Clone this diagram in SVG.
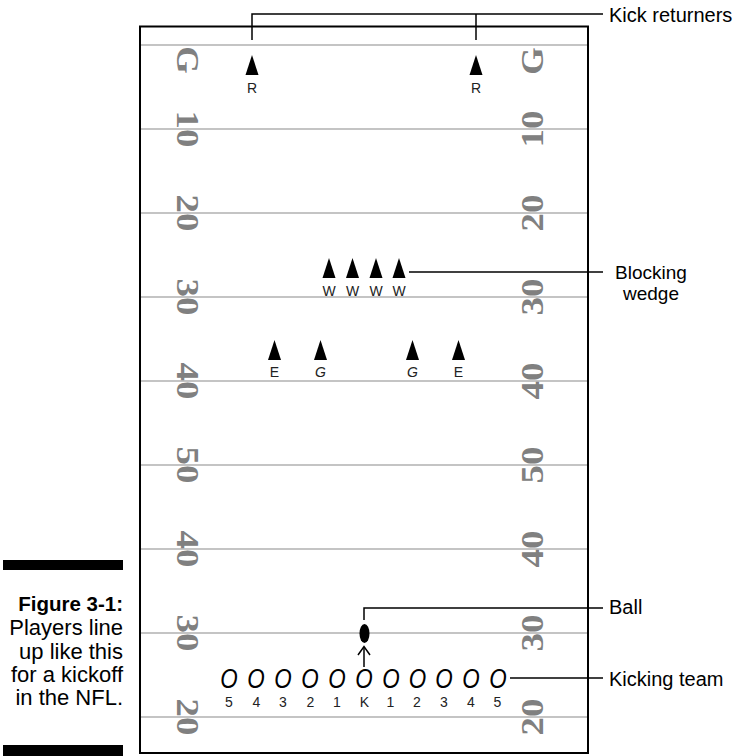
<svg xmlns="http://www.w3.org/2000/svg" xmlns:xlink="http://www.w3.org/1999/xlink" width="746" height="756" viewBox="0 0 746 756">
<style>
.yard{stroke:#8a8a8a;stroke-width:1.2;fill:none}
.num{font-family:"Liberation Serif","Times New Roman",serif;font-weight:bold;font-size:32px;fill:#808080;text-anchor:middle}
.lbl{font-family:"Liberation Sans",Arial,sans-serif;font-size:14px;fill:#222;text-anchor:middle}
.kick{font-family:"Liberation Sans",Arial,sans-serif;font-style:italic;font-size:28px;fill:#000;text-anchor:middle}
.call{font-family:"Liberation Sans",Arial,sans-serif;font-size:20px;fill:#000}
.wedge{font-family:"Liberation Sans",Arial,sans-serif;font-size:19px;fill:#000;text-anchor:middle}
.cap{font-family:"Liberation Sans",Arial,sans-serif;font-size:22px;fill:#000;text-anchor:end}
.capb{font-family:"Liberation Sans",Arial,sans-serif;font-size:20.5px;font-weight:bold;fill:#000;text-anchor:end}
.lead{stroke:#000;stroke-width:1.5;fill:none}
</style>
<defs>
<path id="tri" d="M0,0 L6.5,20 L-6.5,20 Z" fill="#000"/>
</defs>
<rect width="746" height="756" fill="#fff"/>

<g id="field">
<rect x="140" y="26.5" width="448" height="726.5" fill="none" stroke="#000" stroke-width="2"/>
<g class="yard">
<line x1="141" y1="45" x2="587" y2="45"/>
<line x1="141" y1="129" x2="587" y2="129"/>
<line x1="141" y1="213" x2="587" y2="213"/>
<line x1="141" y1="297" x2="587" y2="297"/>
<line x1="141" y1="381" x2="587" y2="381"/>
<line x1="141" y1="465" x2="587" y2="465"/>
<line x1="141" y1="549" x2="587" y2="549"/>
<line x1="141" y1="633" x2="587" y2="633"/>
<line x1="141" y1="717" x2="587" y2="717"/>
</g>
<g id="left-numbers">
<text class="num" transform="translate(177,60) rotate(90) scale(1.1,1)">G</text>
<text class="num" transform="translate(177,129) rotate(90) scale(1.15,1)">10</text>
<text class="num" transform="translate(177,213) rotate(90) scale(1.15,1)">20</text>
<text class="num" transform="translate(177,297) rotate(90) scale(1.15,1)">30</text>
<text class="num" transform="translate(177,381) rotate(90) scale(1.15,1)">40</text>
<text class="num" transform="translate(177,465) rotate(90) scale(1.15,1)">50</text>
<text class="num" transform="translate(177,549) rotate(90) scale(1.15,1)">40</text>
<text class="num" transform="translate(177,633) rotate(90) scale(1.15,1)">30</text>
<text class="num" transform="translate(177,717) rotate(90) scale(1.15,1)">20</text>
</g>
<g id="right-numbers">
<text class="num" transform="translate(543,61) rotate(-90) scale(1.1,1)">G</text>
<text class="num" transform="translate(543,129) rotate(-90) scale(1.15,1)">10</text>
<text class="num" transform="translate(543,213) rotate(-90) scale(1.15,1)">20</text>
<text class="num" transform="translate(543,297) rotate(-90) scale(1.15,1)">30</text>
<text class="num" transform="translate(543,381) rotate(-90) scale(1.15,1)">40</text>
<text class="num" transform="translate(543,465) rotate(-90) scale(1.15,1)">50</text>
<text class="num" transform="translate(543,549) rotate(-90) scale(1.15,1)">40</text>
<text class="num" transform="translate(543,633) rotate(-90) scale(1.15,1)">30</text>
<text class="num" transform="translate(543,717) rotate(-90) scale(1.15,1)">20</text>
</g>
</g>

<g id="connectors">
<polyline class="lead" points="252,40 252,14 603,14"/>
<line class="lead" x1="476" y1="14" x2="476" y2="40"/>
<line class="lead" x1="409" y1="272" x2="603" y2="272"/>
<polyline class="lead" points="364,620 364,608 603,608"/>
<line class="lead" x1="510" y1="678" x2="603" y2="678"/>
<line class="lead" x1="364" y1="667" x2="364" y2="647"/>
<polyline class="lead" points="358,655 364,646.5 370,655"/>
</g>

<g id="kick-returners">
<use xlink:href="#tri" href="#tri" x="252" y="55"/>
<text class="lbl" x="252" y="93">R</text>
<use xlink:href="#tri" href="#tri" x="476" y="55"/>
<text class="lbl" x="476" y="93">R</text>
</g>

<g id="blocking-wedge">
<use xlink:href="#tri" href="#tri" x="329" y="258"/>
<use xlink:href="#tri" href="#tri" x="352.5" y="258"/>
<use xlink:href="#tri" href="#tri" x="376" y="258"/>
<use xlink:href="#tri" href="#tri" x="399" y="258"/>
<text class="lbl" x="329" y="296">W</text>
<text class="lbl" x="352.5" y="296">W</text>
<text class="lbl" x="376" y="296">W</text>
<text class="lbl" x="399" y="296">W</text>
</g>

<g id="ends-guards">
<use xlink:href="#tri" href="#tri" x="274.5" y="340"/>
<use xlink:href="#tri" href="#tri" x="320.5" y="340"/>
<use xlink:href="#tri" href="#tri" x="412.5" y="340"/>
<use xlink:href="#tri" href="#tri" x="458.5" y="340"/>
<text class="lbl" x="274.5" y="377">E</text>
<text class="lbl" x="320.5" y="377" style="font-style:italic">G</text>
<text class="lbl" x="412.5" y="377" style="font-style:italic">G</text>
<text class="lbl" x="458.5" y="377">E</text>
</g>

<g id="ball">
<ellipse cx="364.5" cy="633.5" rx="5" ry="9.5" fill="#000"/>
</g>

<g id="kicking-team">
<text class="kick" transform="translate(229,688) scale(0.8,1)">O</text>
<text class="kick" transform="translate(256,688) scale(0.8,1)">O</text>
<text class="kick" transform="translate(283,688) scale(0.8,1)">O</text>
<text class="kick" transform="translate(310,688) scale(0.8,1)">O</text>
<text class="kick" transform="translate(337,688) scale(0.8,1)">O</text>
<text class="kick" transform="translate(364,688) scale(0.8,1)">O</text>
<text class="kick" transform="translate(391,688) scale(0.8,1)">O</text>
<text class="kick" transform="translate(417.5,688) scale(0.8,1)">O</text>
<text class="kick" transform="translate(444,688) scale(0.8,1)">O</text>
<text class="kick" transform="translate(471,688) scale(0.8,1)">O</text>
<text class="kick" transform="translate(498,688) scale(0.8,1)">O</text>
<text class="lbl" x="229" y="707">5</text>
<text class="lbl" x="256.5" y="707">4</text>
<text class="lbl" x="283" y="707">3</text>
<text class="lbl" x="310.5" y="707">2</text>
<text class="lbl" x="337" y="707">1</text>
<text class="lbl" x="364.5" y="707">K</text>
<text class="lbl" x="390.5" y="707">1</text>
<text class="lbl" x="417" y="707">2</text>
<text class="lbl" x="444" y="707">3</text>
<text class="lbl" x="471" y="707">4</text>
<text class="lbl" x="497.5" y="707">5</text>
</g>

<g id="callouts">
<text class="call" x="609" y="22">Kick returners</text>
<text class="wedge" x="651" y="279">Blocking</text>
<text class="wedge" x="651" y="300">wedge</text>
<text class="call" x="609" y="614">Ball</text>
<text class="call" x="609" y="686">Kicking team</text>
</g>

<g id="caption">
<rect x="3" y="560" width="120" height="10" fill="#000"/>
<text class="capb" x="123" y="611">Figure 3-1:</text>
<text class="cap" x="123" y="635">Players line</text>
<text class="cap" x="123" y="659">up like this</text>
<text class="cap" x="123" y="682">for a kickoff</text>
<text class="cap" x="123" y="705">in the NFL.</text>
<rect x="3" y="745" width="120" height="11" fill="#000"/>
</g>
</svg>
